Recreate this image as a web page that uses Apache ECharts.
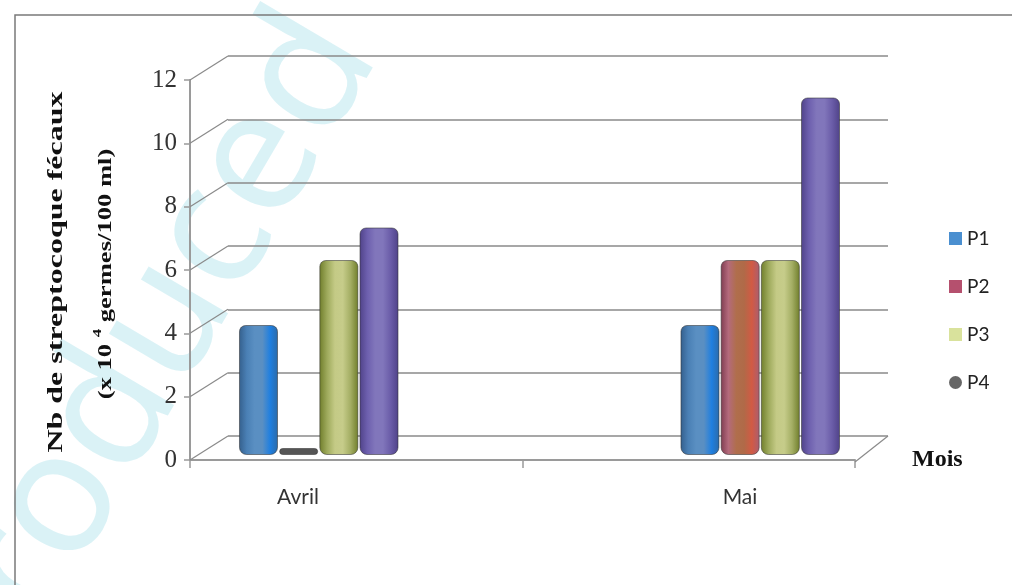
<!DOCTYPE html>
<html>
<head>
<meta charset="utf-8">
<script src="https://cdn.jsdelivr.net/npm/echarts@6/dist/echarts.min.js"></script>
<style>
  html, body { margin: 0; padding: 0; background: #fff; }
  #chart { width: 1012px; height: 585px; }
</style>
</head>
<body>
<div id="chart"></div>
<script>
// Monthly counts of faecal streptococci per sampling point
const categories = ['Avril', 'Mai'];
const seriesNames = ['P1', 'P2', 'P3', 'P4'];
const p1 = [4, 4];
const p2 = [0, 6];
const p3 = [6, 6];
const p4 = [7, 11];
const yTicks = [0, 2, 4, 6, 8, 10, 12];

// cylinder-like horizontal shading for each series
function shade(stops) {
  return new echarts.graphic.LinearGradient(0, 0, 1, 0,
    stops.map(function (c, i) { return { offset: i / (stops.length - 1), color: c }; }));
}
const fills = [
  shade(['#345f8c', '#4a80b5', '#5a8fc2', '#5a8fc2', '#1f7fe0', '#2c6aa8']),
  shade(['#7e3c50', '#b46a7c', '#b06e4c', '#b06a48', '#d25a44', '#a95e70']),
  shade(['#6f7d2a', '#9eaa5c', '#c4ca86', '#c6cc8a', '#a4ae64', '#6f7d2a']),
  shade(['#4f4288', '#6d5fae', '#8176bb', '#8176bb', '#6a5ca8', '#4f4288'])
];
const legendColors = ['#4a8fd0', '#b5506e', '#d9e29c', '#666666'];
const legendIcons = ['rect', 'rect', 'rect', 'circle'];
const values = [p1, p2, p3, p4];

const chart = echarts.init(document.getElementById('chart'));

const axisGrey = '#9a9a9a';
const gridGrey = '#8a8a8a';

const barSeries = seriesNames.map(function (name, i) {
  return {
    name: name,
    type: 'bar',
    xAxisIndex: 3,
    yAxisIndex: 3,
    barWidth: 39,
    barGap: '3%',
    barCategoryGap: '63%',
    barMinHeight: i === 1 ? 7 : 0,
    itemStyle: {
      color: fills[i],
      borderColor: 'rgba(50,50,50,0.55)',
      borderWidth: 1,
      borderRadius: [6, 6, 7, 7]
    },
    data: values[i].map(function (v) {
      return v === 0
        ? { value: v, itemStyle: { color: '#555555', borderRadius: [4, 4, 4, 4] } }
        : v;
    })
  };
});

// receding lines joining the front axis to the back wall
const depthSeries = {
  type: 'custom',
  xAxisIndex: 0,
  yAxisIndex: 0,
  silent: true,
  z: 1,
  data: yTicks.map(function (v) { return [0, v]; }),
  renderItem: function (params, api) {
    const v = api.value(1);
    const y = api.coord([0, v])[1];
    const cs = params.coordSys;
    const children = [{
      type: 'line',
      shape: { x1: cs.x, y1: y, x2: cs.x + 38, y2: y - 24 },
      style: { stroke: gridGrey, lineWidth: 1.2 }
    }];
    if (v === 0) {
      children.push({
        type: 'line',
        shape: { x1: cs.x + cs.width, y1: y + 2, x2: cs.x + cs.width + 33, y2: y - 24 },
        style: { stroke: gridGrey, lineWidth: 1.2 }
      });
    }
    return { type: 'group', children: children };
  }
};

chart.setOption({
  animation: false,
  backgroundColor: '#ffffff',
  grid: [
    { left: 190, right: 157, top: 80, bottom: 125 },
    { left: 77, right: 51, top: 80, bottom: 125 },
    { left: 228, right: 124, top: 56, bottom: 149 },
    { left: 98, right: 31, top: 65, bottom: 130 }
  ],
  xAxis: [
    {
      gridIndex: 0, type: 'category', data: categories,
      axisLine: { lineStyle: { color: axisGrey, width: 2 } },
      axisTick: { show: true, length: 8, lineStyle: { color: axisGrey, width: 1.5 } },
      axisLabel: { show: false },
      name: 'Mois',
      nameLocation: 'end',
      nameGap: 57,
      nameTextStyle: {
        fontFamily: 'Liberation Serif', fontWeight: 'bold', fontSize: 24,
        color: '#111', padding: [22, 0, 0, 0]
      }
    },
    {
      gridIndex: 1, type: 'category', data: categories,
      axisLine: { show: false }, axisTick: { show: false },
      axisLabel: { margin: 27, fontFamily: 'Lato', fontSize: 21, color: '#333' }
    },
    { gridIndex: 2, type: 'category', data: categories, show: false },
    { gridIndex: 3, type: 'category', data: categories, show: false }
  ],
  yAxis: [
    {
      gridIndex: 0, type: 'value', min: 0, max: 12, interval: 2,
      axisLine: { show: true, lineStyle: { color: axisGrey, width: 2 } },
      axisTick: { show: true, length: 6, lineStyle: { color: axisGrey, width: 1.5 } },
      axisLabel: { margin: 13, fontFamily: 'Liberation Serif', fontSize: 25, color: '#333' },
      splitLine: { show: false }
    },
    { gridIndex: 1, type: 'value', min: 0, max: 12, show: false },
    {
      gridIndex: 2, type: 'value', min: 0, max: 12, interval: 2,
      axisLine: { show: false }, axisTick: { show: false }, axisLabel: { show: false },
      splitLine: { show: true, lineStyle: { color: gridGrey, width: 1.5 } }
    },
    { gridIndex: 3, type: 'value', min: 0, max: 12, show: false }
  ],
  legend: {
    orient: 'vertical',
    left: 944,
    top: 224,
    itemWidth: 13,
    itemHeight: 13,
    itemGap: 29,
    textStyle: { fontFamily: 'Lato', fontSize: 19, color: '#222' },
    data: seriesNames.map(function (n, i) {
      return { name: n, icon: legendIcons[i], itemStyle: { color: legendColors[i], borderWidth: 0 } };
    })
  },
  graphic: [
    {
      type: 'text', z: -10, silent: true,
      x: 338, y: 30, rotation: 59.5 * Math.PI / 180,
      style: {
        text: 'reproduced', fill: 'rgba(140,215,228,0.32)',
        font: '172px "Noto Sans"', align: 'right', verticalAlign: 'middle'
      }
    },
    {
      type: 'polyline', silent: true,
      shape: { points: [[15, 600], [15, 15], [1020, 15]] },
      style: { stroke: '#7a7a7a', lineWidth: 1.5, fill: null }
    },
    {
      type: 'text', silent: true,
      x: 57, y: 272, rotation: Math.PI / 2, scaleX: 1.6,
      style: {
        text: 'Nb de streptocoque fécaux',
        fontFamily: 'Liberation Serif', fontWeight: 'bold', fontSize: 20,
        fill: '#111', align: 'center', verticalAlign: 'middle'
      }
    },
    {
      type: 'text', silent: true,
      x: 106, y: 274, rotation: Math.PI / 2, scaleX: 1.4,
      style: {
        text: '(x 10 {sup|4} germes/100 ml)',
        fontFamily: 'Liberation Serif', fontWeight: 'bold', fontSize: 19,
        fill: '#111', align: 'center', verticalAlign: 'middle',
        rich: {
          sup: {
            fontFamily: 'Liberation Serif', fontWeight: 'bold', fontSize: 12,
            fill: '#111', padding: [0, 0, 16, 0]
          }
        }
      }
    }
  ],
  series: [depthSeries].concat(barSeries)
});
</script>
</body>
</html>
